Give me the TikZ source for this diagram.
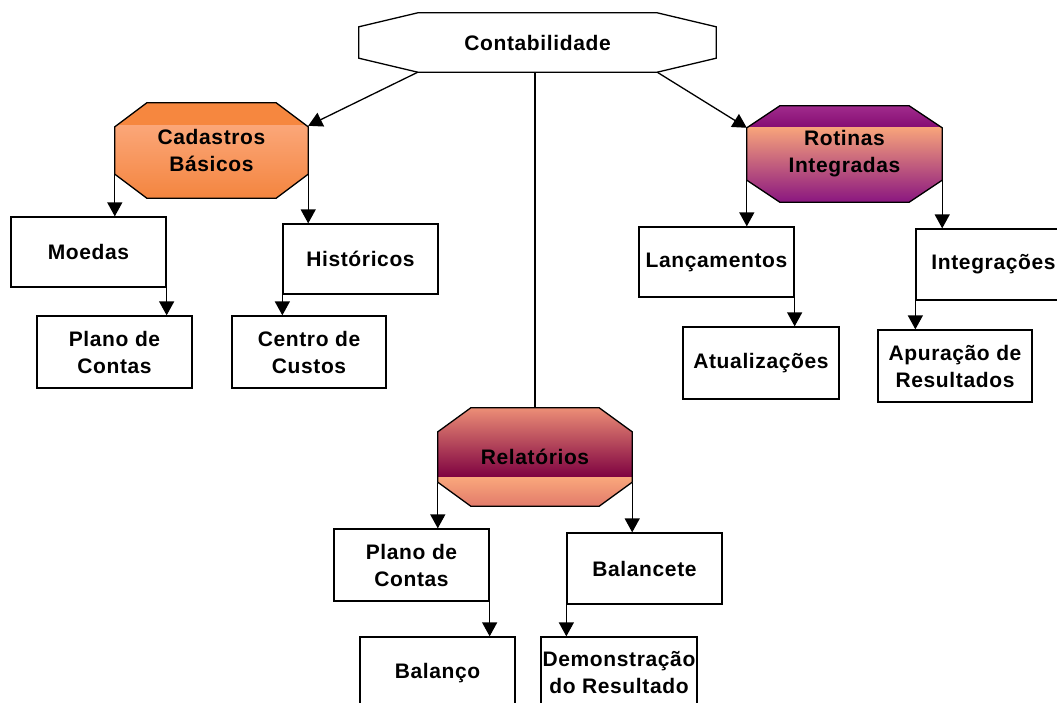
\documentclass[tikz,border=0pt]{standalone}
\usepackage{fontspec}
\setmainfont[LetterSpace=3]{Liberation Sans}
\usetikzlibrary{calc,arrows.meta,backgrounds}
\definecolor{cadtop}{HTML}{F6873F}
\definecolor{cadlight}{HTML}{FBA678}
\definecolor{cadbot}{HTML}{F4853F}
\definecolor{rottopA}{HTML}{A02B8C}
\definecolor{rottopB}{HTML}{850C72}
\definecolor{rotlight}{HTML}{F7A37B}
\definecolor{rotbot}{HTML}{8A1680}
\definecolor{reltop}{HTML}{EC8E76}
\definecolor{reldark}{HTML}{7D0040}
\definecolor{rellight}{HTML}{F9A67B}
\definecolor{relbot}{HTML}{E27B6B}
\newcommand\txtfont{\bfseries\fontsize{21}{27}\selectfont}
\newcommand\octpath[3]{($(#1.north west)+(#2,0)$) -- ($(#1.north east)+(-#2,0)$) -- ($(#1.north east)+(0,#3)$) -- ($(#1.south east)+(0,-#3)$) -- ($(#1.south east)+(-#2,0)$) -- ($(#1.south west)+(#2,0)$) -- ($(#1.south west)+(0,-#3)$) -- ($(#1.north west)+(0,#3)$) -- cycle}
\begin{document}
\begin{tikzpicture}[x=1pt,y=-1pt,
  box/.style={draw, line width=1.3pt, fill=white, minimum width=155pt, minimum height=71pt, inner sep=0pt, align=center, font=\txtfont},
  oct/.style={inner sep=0pt, align=center, font=\txtfont},
  arr/.style={line width=1.3pt, -{Triangle[width=15pt,length=14pt]}},
  ln/.style={line width=1.3pt}]
\useasboundingbox (0,0) rectangle (1057,702);
\clip (0,0) rectangle (1057,702);

% octagon nodes
\node[oct, minimum width=357pt, minimum height=59pt] (cont) at (537.5,42.5) {Contabilidade};
\node[oct, minimum width=193pt, minimum height=95pt] (cad) at (211.5,150.5) {Cadastros\\Básicos};
\node[oct, minimum width=195pt, minimum height=96pt] (rot) at (844.5,154) {Rotinas\\Integradas};
\node[oct, minimum width=194pt, minimum height=98pt] (rel) at (535,457) {Relatórios};

\begin{scope}[on background layer]
  \fill[white] (0,0) rectangle (1057,702);
  \fill[white] \octpath{cont}{59}{14};
  \begin{scope}
    \clip \octpath{cad}{32}{24};
    \fill[cadtop] (cad.north west) rectangle ($(cad.north east)+(0,23)$);
    \shade[top color=cadlight, bottom color=cadbot] ($(cad.north west)+(0,23)$) rectangle (cad.south east);
  \end{scope}
  \begin{scope}
    \clip \octpath{rot}{33}{22};
    \shade[top color=rottopA, bottom color=rottopB] (rot.north west) rectangle ($(rot.north east)+(0,22)$);
    \shade[top color=rotlight, bottom color=rotbot] ($(rot.north west)+(0,22)$) rectangle (rot.south east);
  \end{scope}
  \begin{scope}
    \clip \octpath{rel}{33}{24};
    \shade[top color=reltop, bottom color=reldark] (rel.north west) rectangle ($(rel.north east)+(0,70)$);
    \shade[top color=rellight, bottom color=relbot] ($(rel.north west)+(0,70)$) rectangle (rel.south east);
  \end{scope}
\end{scope}
\draw[ln] \octpath{cont}{59}{14};
\draw[ln] \octpath{cad}{32}{24};
\draw[ln] \octpath{rot}{33}{22};
\draw[ln] \octpath{rel}{33}{24};

% boxes
\node[box, minimum height=70pt] (moe) at (88.5,252) {Moedas};
\node[box, minimum height=72pt] (pc1) at (114.5,352) {Plano de\\Contas};
\node[box, minimum height=70pt] (his) at (360.5,259) {Históricos};
\node[box, minimum height=72pt, minimum width=154pt] (cc) at (309,352) {Centro de\\Custos};
\node[box, minimum height=70pt] (lan) at (716.5,262) {Lançamentos};
\node[box, minimum height=72pt, minimum width=156pt] (atu) at (761,363) {Atualizações};
\node[box, minimum height=71pt] (int) at (993.5,264.5) {Integrações};
\node[box, minimum height=72pt, minimum width=154pt] (apu) at (955,366) {Apuração de\\Resultados};
\node[box, minimum height=72pt] (pc2) at (411.5,565) {Plano de\\Contas};
\node[box, minimum height=72pt] (bal) at (437.5,673) {Balanço};
\node[box, minimum height=71pt] (blc) at (644.5,568.5) {Balancete};
\node[box, minimum height=72pt, minimum width=156pt] (dem) at (619,673) {Demonstração\\do Resultado};

% connectors
\draw[arr] ($(cont.south west)+(59,0)$) -- ($(cad.north east)+(0,23)$);
\draw[arr] ($(cont.south east)+(-59,0)$) -- ($(rot.north west)+(0,22)$);
\draw[ln] (rel.north |- cont.south) -- (rel.north);
\draw[arr] ($(cad.south west)+(0,-24)$) -- (cad.south west |- moe.north);
\draw[arr] ($(cad.south east)+(0,-24)$) -- (cad.south east |- his.north);
\draw[arr] (moe.south east) -- (moe.south east |- pc1.north);
\draw[arr] (his.south west) -- (his.south west |- cc.north);
\draw[arr] ($(rot.south west)+(0,-22)$) -- (rot.south west |- lan.north);
\draw[arr] ($(rot.south east)+(0,-22)$) -- (rot.south east |- int.north);
\draw[arr] (lan.south east) -- (lan.south east |- atu.north);
\draw[arr] (int.south west) -- (int.south west |- apu.north);
\draw[arr] ($(rel.south west)+(0,-23)$) -- (rel.south west |- pc2.north);
\draw[arr] ($(rel.south east)+(0,-23)$) -- (rel.south east |- blc.north);
\draw[arr] (pc2.south east) -- (pc2.south east |- bal.north);
\draw[arr] (blc.south west) -- (blc.south west |- dem.north);
\end{tikzpicture}
\end{document}
